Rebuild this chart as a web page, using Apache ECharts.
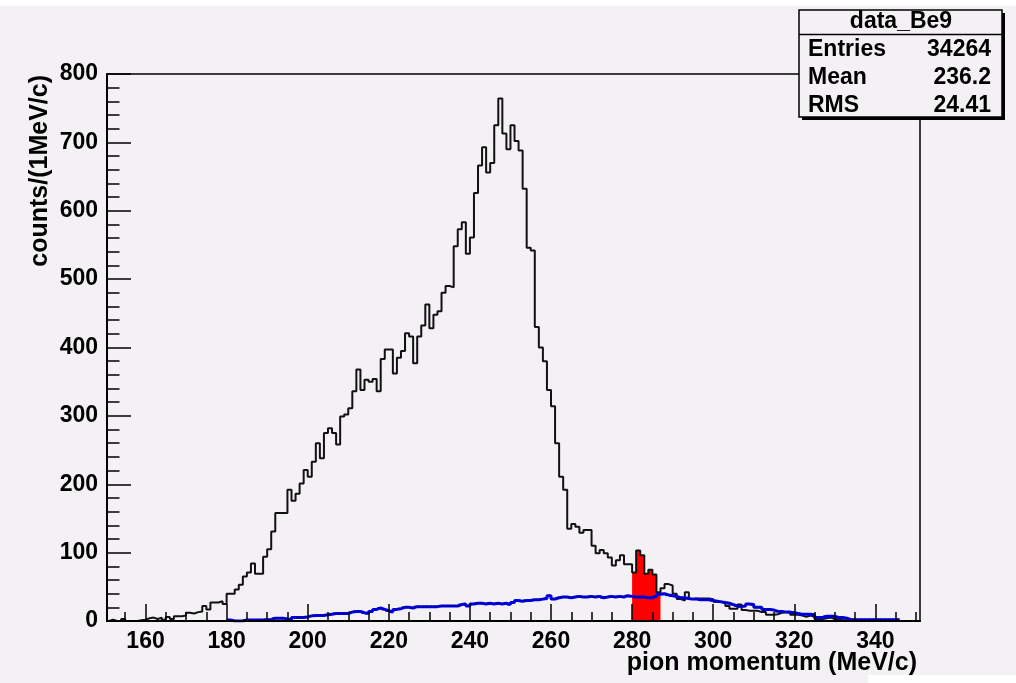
<!DOCTYPE html>
<html>
<head>
<meta charset="utf-8">
<script src="https://cdn.jsdelivr.net/npm/echarts@6/dist/echarts.min.js"></script>
<style>
html,body{margin:0;padding:0;background:#f4f1f4;}
#c{width:1016px;height:683px;}
</style>
</head>
<body>
<div id="c"></div>
<script>
// ---- data ----
const binStart = 150;          // left edge of first bin (1 MeV/c bins)
const blackCounts = [
  0,2,0,0,3,0,0,0,1,2,
  4,5,3,5,2,6,3,7,7,8,
  12,11,13,14,22,17,27,27,29,25,
  40,40,46,53,65,71,84,69,69,94,
  105,131,158,158,158,192,176,186,201,221,
  211,233,260,238,275,282,275,258,299,302,
  311,336,368,338,353,350,354,336,383,397,
  397,362,385,395,421,416,377,416,432,463,
  428,448,453,480,490,488,548,573,583,537,
  561,626,666,693,656,670,725,764,713,690,
  725,702,688,632,546,542,430,400,380,338,
  314,260,211,192,135,142,138,129,133,133,
  110,99,104,99,93,81,89,96,83,83,
  71,103,96,69,75,68,42,48,54,52,
  40,32,30,42,32,33,33,33,33,32,
  28,28,27,22,18,18,24,16,15,15,
  15,13,13,9,9,10,12,13,12,9,
  9,8,6,8,6,3,3,4,5,3,
  2,1,1,2,1,0,0,0,0,0,
  0,0,0,0,0,0,0,0,0,0,0
];
const blueStart = 180;
const blueCounts = [
  1.5,0,0,0,1.5,1.5,1.5,1.5,1.5,2,
  2,4,4,4,3,2,5,5,5,6,
  7.5,8,8,8,9,10,11,11,11,11,
  13,14,14,12,11,14,17,19,17,15,
  13,17,18,20,20,19,21,21,21,21,
  21,21,22,22,22,22,22,24,25,22,
  25,26,26,25,26,25,26,25,26,24,
  27,30,29,30,30,31,31,32,33,37,
  32,34,35,35,34,35,36,35,35,36,
  35,36,34,35,36,35,36,35,37,36,
  35,35,35,34,34,36,39,40,38,37,
  36,34,34,33,32,32,31,31,31,30,
  29,28,27,26,24,22,21,22,25,24,
  20,20,17,17,16,14,14,13,13,12,
  11,10,10,10,9,5,5,7,7,7,
  5,5,4,2,2,2,2,2,2,2,
  2,2,2,2,2,2
];
const redRange = [280, 287];   // highlighted bins [from, to)
const xMajorTicks = [160,180,200,220,240,260,280,300,320,340];
const xMinorTicks = [];
for (let v = 155; v <= 350; v += 5) xMinorTicks.push(v);
const xRange = [150.5, 351];
const yRange = [0, 800];
const statsTitle = 'data_Be9';
const statsRows = [['Entries','34264'],['Mean','236.2'],['RMS','24.41']];
const xTitle = 'pion momentum (MeV/c)';
const yTitle = 'counts/(1MeV/c)';

// ---- build step outlines ----
function stepPoints(start, counts) {
  const pts = counts.map((c, i) => [start + i, c]);
  pts.push([start + counts.length, counts[counts.length - 1]]);
  return pts;
}
const blackPts = stepPoints(binStart, blackCounts);
const bluePts = stepPoints(blueStart, blueCounts);
const redPts = [];
for (let v = redRange[0]; v < redRange[1]; v++) redPts.push([v, blackCounts[v - binStart]]);
redPts.push([redRange[1], blackCounts[redRange[1] - 1 - binStart]]);
const blueMarks = blueCounts.map((c, i) => [blueStart + i + 0.5, c]);

const FONT = '"Liberation Sans", Arial, Helvetica, sans-serif';
const chart = echarts.init(document.getElementById('c'), null, {renderer: 'canvas'});
const gridL = 107, gridT = 74, gridR = 96, gridB = 62;

chart.setOption({
  backgroundColor: '#f4f1f4',
  animation: false,
  grid: {left: gridL, top: gridT, right: gridR, bottom: gridB, show: true,
         borderColor: '#000', borderWidth: 1.5, backgroundColor: 'transparent'},
  xAxis: [{
    type: 'value', min: xRange[0], max: xRange[1], position: 'bottom', z: 5,
    axisLine: {show: true, onZero: false, lineStyle: {color: '#000', width: 2}},
    axisTick: {show: true, inside: true, length: 17, customValues: xMajorTicks,
               lineStyle: {color: '#000', width: 1.5}},
    axisLabel: {show: true, customValues: xMajorTicks, margin: 9, color: '#000',
                fontFamily: FONT, fontWeight: 'bold', fontSize: 23},
    splitLine: {show: false}
  }, {
    type: 'value', min: xRange[0], max: xRange[1], position: 'bottom', offset: 0, z: 5,
    axisLine: {show: false, onZero: false},
    axisTick: {show: true, inside: true, length: 9, customValues: xMinorTicks,
               lineStyle: {color: '#000', width: 1.5}},
    axisLabel: {show: false},
    splitLine: {show: false}
  }],
  yAxis: {
    type: 'value', min: yRange[0], max: yRange[1], interval: 100, z: 5,
    axisLine: {show: true, onZero: false, lineStyle: {color: '#000', width: 2}},
    axisTick: {show: true, inside: true, length: 24, lineStyle: {color: '#000', width: 1.5}},
    minorTick: {show: true, splitNumber: 5, length: 12.5, lineStyle: {color: '#000', width: 1.5}},
    axisLabel: {margin: 9, color: '#000', fontFamily: FONT, fontWeight: 'bold', fontSize: 23},
    splitLine: {show: false}
  },
  series: [
    {type: 'line', name: 'red', data: redPts, step: 'end', symbol: 'none',
     lineStyle: {width: 0}, areaStyle: {color: '#ff0000', opacity: 1}, z: 2},
    {type: 'line', name: 'data', data: blackPts, step: 'end', symbol: 'none',
     lineStyle: {color: '#111', width: 2}, z: 3},
    {type: 'line', name: 'blue', data: bluePts, step: 'end', symbol: 'none',
     lineStyle: {color: '#0000ff', width: 3}, z: 4},
    {type: 'scatter', name: 'bluemarks', data: blueMarks, symbol: 'rect', symbolSize: [3, 2],
     itemStyle: {color: '#000090'}, z: 4, silent: true}
  ],
  graphic: [
    {type: 'rect', shape: {x: 0, y: 0, width: 1016, height: 6}, style: {fill: '#ffffff'}, z: 0},
    {type: 'rect', shape: {x: 868, y: 675, width: 148, height: 8}, style: {fill: '#ffffff'}, z: 0},
    {type: 'text', x: 917, y: 663, style: {text: xTitle, textAlign: 'right', textVerticalAlign: 'middle',
      font: 'bold 25px ' + FONT, fill: '#000'}, z: 100},
    {type: 'text', x: 40, y: 75, rotation: Math.PI / 2, style: {text: yTitle, textAlign: 'right',
      textVerticalAlign: 'middle', font: 'bold 25px ' + FONT, fill: '#000'}, z: 100},
    {type: 'group', z: 100, children: [
      {type: 'rect', shape: {x: 802, y: 13, width: 203, height: 107}, style: {fill: '#000'}},
      {type: 'rect', shape: {x: 799, y: 10, width: 203, height: 107},
       style: {fill: '#f4f1f4', stroke: '#000', lineWidth: 1.5}},
      {type: 'line', shape: {x1: 799, y1: 34.5, x2: 1002, y2: 34.5}, style: {stroke: '#000', lineWidth: 1.5}},
      {type: 'text', x: 901, y: 22, style: {text: statsTitle, textAlign: 'center', textVerticalAlign: 'middle',
        font: 'bold 23px ' + FONT, fill: '#000'}},
      ...statsRows.flatMap((r, i) => [
        {type: 'text', x: 808, y: 50 + i * 28, style: {text: r[0], textAlign: 'left', textVerticalAlign: 'middle',
          font: 'bold 23px ' + FONT, fill: '#000'}},
        {type: 'text', x: 991, y: 50 + i * 28, style: {text: r[1], textAlign: 'right', textVerticalAlign: 'middle',
          font: 'bold 23px ' + FONT, fill: '#000'}}
      ])
    ]}
  ]
});
</script>
</body>
</html>
